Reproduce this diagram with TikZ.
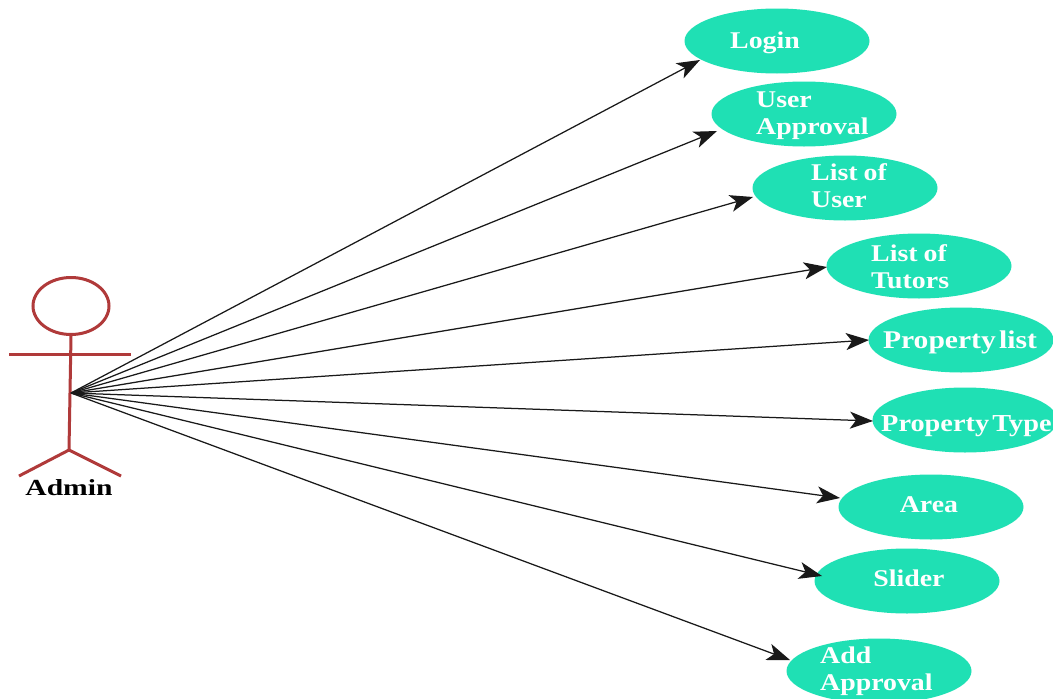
\documentclass[tikz,border=0pt]{standalone}
\usepackage{fontspec}
\setmainfont[FakeStretch=1.16,WordSpace=0.45]{Liberation Serif}
\usetikzlibrary{arrows.meta,shapes.geometric}
\definecolor{teal1}{HTML}{1FE0B4}
\definecolor{actor}{HTML}{B03A3A}
\tikzset{
  uc/.style={ellipse,fill=teal1,draw=none,minimum width=185pt,minimum height=65pt,inner sep=0pt},
  uctxt/.style={text=white,font=\fontsize{24}{27}\selectfont\bfseries,align=left,inner sep=0pt},
  uctxtw/.style={text=white,font=\fontsize{25.5}{27}\selectfont\bfseries,align=left,inner sep=0pt},
  uctxtn/.style={text=white,font=\fontsize{24.4}{27}\selectfont\bfseries,align=left,inner sep=0pt},
  lnk/.style={draw=black!90,line width=1.25pt,-{Stealth[length=23pt,width=17pt,inset=6pt]}},
  act/.style={draw=actor,line width=3pt},
}
\begin{document}
\begin{tikzpicture}[x=1pt,y=-1pt]
\path[use as bounding box,fill=white] (0,0) rectangle (1053,699);
\begin{scope}
\clip (0,0) rectangle (1053,699);
\node[uc] (login) at (777,41) {};
\node[uc] (user) at (804,114) {};
\node[uc] (listu) at (845,188) {};
\node[uc] (listt) at (919,266) {};
\node[uc] (plist) at (961,340) {};
\node[uc] (ptype) at (965,420) {};
\node[uc] (area) at (931,507) {};
\node[uc] (slider) at (907,581) {};
\node[uc] (add) at (879,671) {};
\end{scope}
\node[uctxtn,anchor=west] (t6) at (881,426) {Property Type};
\node[uctxt] (t1) at (765,43) {Login};
\node[uctxt,anchor=west] (t2) at (756,116) {User\\Approval};
\node[uctxt,anchor=west] (t3) at (811,186) {List\hspace{3pt} of\\User};
\node[uctxt,anchor=west] (t4) at (871,267) {List\hspace{3pt} of\\Tutors};
\node[uctxtw] (t5) at (960,342) {Property list};
\node[uctxt] (t7) at (929,505) {Area};
\node[uctxt] (t8) at (909,578) {Slider};
\node[uctxt,anchor=west] (t9) at (820,671) {Add\\Approval};
% actor
\node[ellipse,draw=actor,line width=3pt,minimum width=76pt,minimum height=57pt,inner sep=0pt] (head) at (71,306) {};
\coordinate (hip) at (69,450);
\coordinate (armL) at (9,354);
\coordinate (armR) at (131,354);
\coordinate (footL) at (19,476);
\coordinate (footR) at (121,476);
\coordinate (hub) at (71,393);
\draw[act] (head.south) -- (hip);
\draw[act] (armL) -- (armR);
\draw[act] (footL) -- (hip) -- (footR);
\node[font=\fontsize{23}{25}\selectfont\bfseries,text=black,inner sep=0pt] (admin) at (69,488) {\scalebox{1.11}[1]{Admin}};
% arrow ends
\coordinate (e1) at (700,60);
\coordinate (e2) at (717,131);
\coordinate (e3) at (753,197);
\coordinate (e4) at (827,267);
\coordinate (e5) at (869,340);
\coordinate (e6) at (873,421);
\coordinate (e7) at (840,498);
\coordinate (e8) at (822,576);
\coordinate (e9) at (790,660);
\foreach \e in {e1,e2,e3,e4,e5,e6,e7,e8,e9} \draw[lnk] (hub) -- (\e);
\end{tikzpicture}
\end{document}
